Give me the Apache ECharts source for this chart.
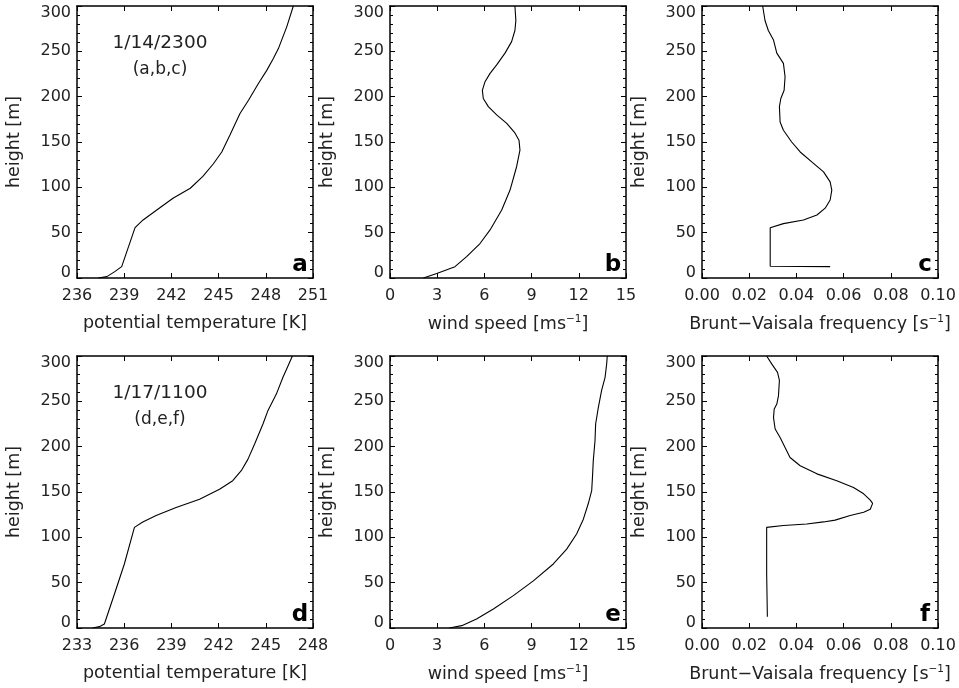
<!DOCTYPE html>
<html>
<head>
<meta charset="utf-8">
<title>profiles</title>
<script src="https://cdn.jsdelivr.net/npm/echarts@6/dist/echarts.min.js"></script>
<style>
    html, body { margin: 0; padding: 0; background: #fff; }
    #chart { width: 959px; height: 688px; }
</style>
</head>
<body>
<div id="chart"></div>
<script>
'use strict';

// 1/14/2300 - potential temperature (a)
var heightA = [0, 1.5, 7, 12.5, 55.5, 64, 75, 88, 99, 112, 126, 139, 158, 181.5, 196, 214.6, 229, 242, 253, 277, 300];
var thetaA = [237.35, 237.9, 238.4, 238.84, 239.69, 240.2, 241.07, 242.1, 243.2, 244.0, 244.67, 245.2, 245.73, 246.36, 246.9, 247.53, 248.06, 248.48, 248.8, 249.33, 249.75];

// 1/14/2300 - wind speed (b)
var heightB = [0, 5, 12.5, 23.5, 38, 53, 75, 97, 123, 141, 152, 160, 170.5, 180, 189, 198, 207, 216.5, 225.7, 235, 248, 260.7, 273, 284, 300];
var windB = [2.12, 2.97, 4.13, 4.87, 5.72, 6.36, 7.1, 7.63, 8.05, 8.26, 8.2, 7.94, 7.42, 6.78, 6.25, 5.93, 5.87, 6.04, 6.36, 6.78, 7.31, 7.73, 7.94, 8.0, 7.94];

// 1/14/2300 - Brunt-Vaisala frequency (c)
var heightC = [12.5, 13, 55.5, 60, 64, 69.5, 77, 86, 97, 106, 117, 128, 139, 150, 163, 172, 189, 198, 207, 222, 236.7, 248, 262.4, 273, 284, 300];
var bvfC = [0.0543, 0.0289, 0.0289, 0.0345, 0.043, 0.0487, 0.0522, 0.0543, 0.055, 0.0543, 0.0515, 0.0465, 0.0416, 0.038, 0.0345, 0.0331, 0.0328, 0.0334, 0.0348, 0.0352, 0.0345, 0.0317, 0.0303, 0.0281, 0.0267, 0.0257];

// 1/17/1100 - potential temperature (d)
var heightD = [0, 1.5, 4.4, 37.5, 70.6, 111, 117, 124, 133, 142, 153, 162.5, 173.5, 186, 203, 225, 240, 258, 276.5, 289, 300];
var thetaD = [234.0, 234.42, 234.74, 235.38, 236.01, 236.65, 237.18, 238.03, 239.3, 240.79, 242.06, 242.9, 243.44, 243.86, 244.29, 244.82, 245.14, 245.67, 246.09, 246.41, 246.69];

// 1/17/1100 - wind speed (e)
var heightE = [0, 2.6, 10, 21, 35.7, 52, 70.6, 87, 103.7, 120, 137, 151.5, 170, 184.6, 206.6, 225, 243, 262, 276.5, 291, 300];
var windE = [3.77, 4.56, 5.5, 6.57, 7.84, 9.11, 10.38, 11.23, 11.86, 12.29, 12.6, 12.82, 12.88, 12.92, 13.03, 13.07, 13.24, 13.45, 13.67, 13.77, 13.81];

// 1/17/1100 - Brunt-Vaisala frequency (f)
var heightF = [12.5, 59.5, 111, 113, 114.7, 117, 119, 124, 127.6, 131, 137.5, 141, 148, 155, 162.5, 170, 179, 188, 199, 210, 219.5, 232, 241.5, 247, 256, 273, 282, 291, 300];
var bvfF = [0.0277, 0.0274, 0.0274, 0.0345, 0.0444, 0.0515, 0.0564, 0.0628, 0.0685, 0.0713, 0.0723, 0.0713, 0.0685, 0.0642, 0.0571, 0.0487, 0.0416, 0.0373, 0.0352, 0.0331, 0.031, 0.0303, 0.0306, 0.0317, 0.0324, 0.0328, 0.032, 0.0296, 0.0274];

// x axis ranges for the six panels: [min, max, interval]
var xRanges = [[236, 251, 3], [0, 15, 3], [0, 0.1, 0.02], [233, 248, 3], [0, 15, 3], [0, 0.1, 0.02]];
var xNames = [
    'potential temperature [K]',
    'wind speed [ms{sup|\u22121}]',
    'Brunt\u2212Vaisala frequency [s{sup|\u22121}]'
];
var panelLetters = ['a', 'b', 'c', 'd', 'e', 'f'];
var dateLabels = [['1/14/2300', '(a,b,c)'], ['1/17/1100', '(d,e,f)']];

var FONT = 'DejaVu Sans',
    TXT = '#222',
    lefts = [77, 390, 702],
    tops = [6, 356],
    gridW = 236,
    gridH = 272;

function zip(xs, ys) {
    var out = [];
    for (var i = 0; i < xs.length; i++) {
        out.push([xs[i], ys[i]]);
    }
    return out;
}

var seriesData = [
    zip(thetaA, heightA), zip(windB, heightB), zip(bvfC, heightC),
    zip(thetaD, heightD), zip(windE, heightE), zip(bvfF, heightF)
];

var grids = [], xAxes = [], yAxes = [], series = [], graphics = [];
// frame lines, never moved to the zero of the other axis
var lineCfg = { show: true, onZero: false, lineStyle: { color: '#000', width: 1.5 } };
var tickCfg = { inside: true, length: 5, lineStyle: { color: '#000' } };
var minorCfg = { show: true, splitNumber: 5, length: 3, lineStyle: { color: '#000' } };

for (var p = 0; p < 6; p++) {
    var row = Math.floor(p / 3), col = p % 3;
    var r = xRanges[p];
    grids.push({
        left: lefts[col], top: tops[row], width: gridW, height: gridH,
        outerBoundsMode: 'none'
    });

    // bottom axis with labels
    xAxes.push({
        type: 'value', gridIndex: p, position: 'bottom',
        min: r[0], max: r[1], interval: r[2],
        axisLine: lineCfg,
        axisTick: tickCfg,
        splitLine: { show: false },
        axisLabel: {
            margin: 10, fontFamily: FONT, fontSize: 16, color: TXT,
            formatter: (function(step) {
                return function(v) { return step < 1 ? v.toFixed(2) : String(Math.round(v)); };
            })(r[2])
        },
        name: xNames[col], nameLocation: 'middle', nameGap: 36,
        nameTextStyle: {
            fontFamily: FONT, fontSize: 17.5, color: TXT,
            rich: { sup: { fontFamily: FONT, fontSize: 10.5, color: TXT, padding: [0, 0, 9, 0] } }
        }
    });
    // top axis, ticks only
    xAxes.push({
        type: 'value', gridIndex: p, position: 'top',
        min: r[0], max: r[1], interval: r[2],
        axisLine: lineCfg,
        axisTick: tickCfg,
        splitLine: { show: false },
        axisLabel: { show: false }
    });

    // left axis with labels; end labels pulled inward a little
    yAxes.push({
        type: 'value', gridIndex: p, position: 'left',
        min: 0, max: 300, interval: 50,
        axisLine: lineCfg,
        axisTick: tickCfg,
        minorTick: minorCfg,
        splitLine: { show: false },
        axisLabel: {
            margin: 6, fontFamily: FONT, fontSize: 16, color: TXT,
            formatter: function(v) {
                if (v === 0) return '{lo|0}';
                if (v === 300) return '{hi|300}';
                return String(v);
            },
            rich: {
                lo: { fontFamily: FONT, fontSize: 16, color: TXT, padding: [0, 0, 10, 0] },
                hi: { fontFamily: FONT, fontSize: 16, color: TXT, padding: [14, 0, 0, 0] }
            }
        },
        name: 'height [m]', nameLocation: 'middle', nameGap: 54,
        nameTextStyle: { fontFamily: FONT, fontSize: 17.5, color: TXT }
    });
    // right axis, ticks only
    yAxes.push({
        type: 'value', gridIndex: p, position: 'right',
        min: 0, max: 300, interval: 50,
        axisLine: lineCfg,
        axisTick: tickCfg,
        minorTick: minorCfg,
        splitLine: { show: false },
        axisLabel: { show: false }
    });

    series.push({
        type: 'line',
        xAxisIndex: p * 2, yAxisIndex: p * 2,
        data: seriesData[p],
        showSymbol: false, symbol: 'none',
        lineStyle: { color: '#000', width: 1.1 },
        animation: false
    });

    // panel letter, bottom right corner
    graphics.push({
        type: 'text',
        x: lefts[col] + gridW - 13,
        y: tops[row] + gridH - 13,
        style: {
            text: panelLetters[p], fontFamily: FONT, fontSize: 23, fontWeight: 'bold', fill: '#000',
            align: 'center', verticalAlign: 'middle'
        }
    });
}

// date labels in the first column
for (var k = 0; k < 2; k++) {
    graphics.push({
        type: 'text', x: 160, y: tops[k] + 37,
        style: { text: dateLabels[k][0], fontFamily: FONT, fontSize: 18.5, fill: TXT, align: 'center', verticalAlign: 'middle' }
    });
    graphics.push({
        type: 'text', x: 160, y: tops[k] + 64,
        style: { text: dateLabels[k][1], fontFamily: FONT, fontSize: 17, fill: TXT, align: 'center', verticalAlign: 'middle' }
    });
}

var chart = echarts.init(document.getElementById('chart'), null, { renderer: 'canvas' });
chart.setOption({
    animation: false,
    backgroundColor: '#fff',
    grid: grids,
    xAxis: xAxes,
    yAxis: yAxes,
    series: series,
    graphic: graphics
});
</script>
</body>
</html>
